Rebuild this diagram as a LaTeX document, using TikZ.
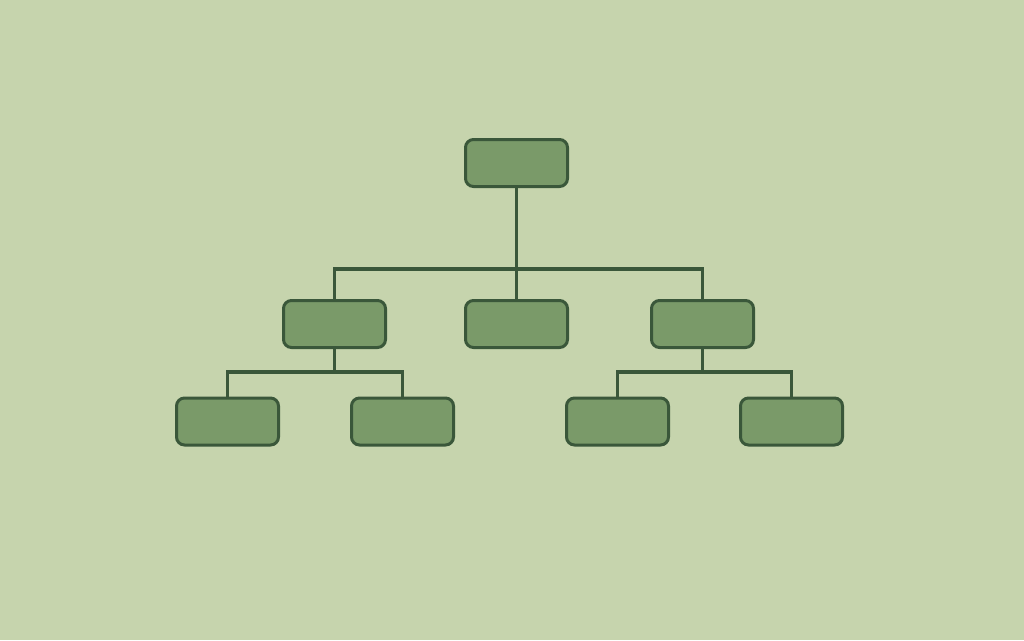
\documentclass[tikz,border=0pt]{standalone}
\definecolor{bgc}{HTML}{C6D4AD}
\definecolor{boxfill}{HTML}{7A9A69}
\definecolor{boxline}{HTML}{3A573A}
\begin{document}
\begin{tikzpicture}[x=1pt,y=-1pt,
  orgbox/.style={draw=boxline,fill=boxfill,line width=3pt,rounded corners=8pt,minimum width=102pt,minimum height=47pt,inner sep=0pt},
  link/.style={draw=boxline,line width=3.5pt}]
\fill[bgc] (0,0) rectangle (1024,640);
\useasboundingbox (0,0) rectangle (1024,640);
\coordinate (b1) at (516.5,269);
\coordinate (b2) at (334.5,372);
\coordinate (b3) at (702.5,372);
\node[orgbox] (top) at (516.5,163) {};
\node[orgbox] (l2a) at (334.5,324) {};
\node[orgbox] (l2b) at (516.5,324) {};
\node[orgbox] (l2c) at (702.5,324) {};
\node[orgbox] (l3a) at (227.5,421.5) {};
\node[orgbox] (l3b) at (402.5,421.5) {};
\node[orgbox] (l3c) at (617.5,421.5) {};
\node[orgbox] (l3d) at (791.5,421.5) {};
\draw[link] (top.south) -- (l2b.north);
\draw[link] (l2a.north) |- (b1) -| (l2c.north);
\draw[link] (l2a.south) -- (b2);
\draw[link] (l3a.north) |- (b2) -| (l3b.north);
\draw[link] (l2c.south) -- (b3);
\draw[link] (l3c.north) |- (b3) -| (l3d.north);
\end{tikzpicture}
\end{document}
